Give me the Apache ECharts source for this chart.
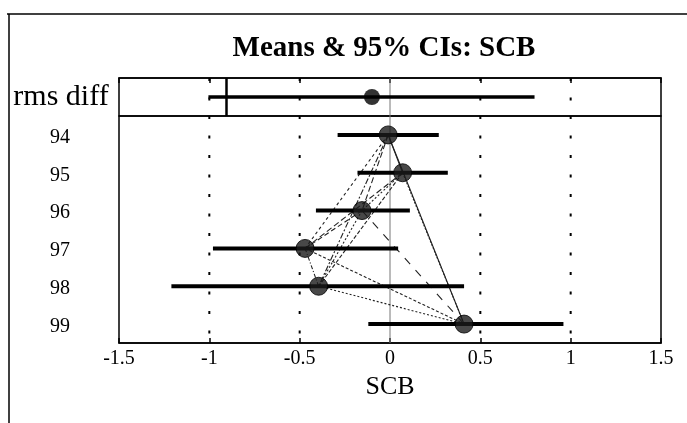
<!DOCTYPE html>
<html>
<head>
<meta charset="utf-8">
<script src="https://cdn.jsdelivr.net/npm/echarts@6/dist/echarts.min.js"></script>
<style>
html,body{margin:0;padding:0;background:#fff;}
#main{width:687px;height:423px;}
</style>
</head>
<body>
<div id="main"></div>
<script>
// ---- data ----
const years = ['94', '95', '96', '97', '98', '99'];
const means = [-0.01, 0.07, -0.155, -0.47, -0.395, 0.41];
const lower = [-0.29, -0.18, -0.41, -0.98, -1.21, -0.12];
const upper = [0.27, 0.32, 0.11, 0.045, 0.41, 0.96];
const rmsLabel = ['rms diff'];
const rmsMean = [-0.10];
const rmsLower = [-1.005];
const rmsUpper = [0.80];
const rmsRef = [-0.905];
const xTicks = [-1.5, -1, -0.5, 0, 0.5, 1, 1.5];
const gridVals = [-1, -0.5, 0.5, 1];
// pairs of years connected by thin lines (index pairs)
const pairs = [[0,1],[0,2],[0,3],[0,4],[0,5],[1,2],[1,3],[1,4],[1,5],[2,3],[2,4],[2,5],[3,4],[3,5],[4,5]];
const pairDash = [[1,0],[6,3],[3,3],[6,2,2,2],[1,0],[2,2],[6,3],[4,2],[2,1.5],[5,3],[2,2],[8,8],[4,2,1,2],[3,2],[2,2]];

const FONT = '"Liberation Serif", "Times New Roman", serif';
const chart = echarts.init(document.getElementById('main'));

const xAxisBase = {
  type: 'value', min: -1.5, max: 1.5, interval: 0.5,
  splitLine: { show: false },
  axisLine: { show: true, lineStyle: { color: '#000', width: 1.5 } },
  axisTick: { show: true, inside: true, length: 5, lineStyle: { color: '#000', width: 1.5 } }
};

function vlineSeries(xIdx, yIdx) {
  return {
    type: 'custom', xAxisIndex: xIdx, yAxisIndex: yIdx, silent: true, z: 1,
    data: gridVals.map(v => [v, 0]).concat([[0, 1]]),
    renderItem: function (params, api) {
      const cs = params.coordSys;
      const x = api.coord([api.value(0), 0])[0];
      const isZero = api.value(1) === 1;
      return {
        type: 'line',
        shape: { x1: x, y1: cs.y, x2: x, y2: cs.y + cs.height },
        style: isZero ? { stroke: '#777', lineWidth: 1 } : { stroke: '#000', lineWidth: 2, lineDash: [3, 16.5] }
      };
    }
  };
}

const option = {
  backgroundColor: '#fff',
  animation: false,
  title: {
    text: 'Means & 95% CIs: SCB',
    left: 379, top: 29, textAlign: 'center',
    textStyle: { fontFamily: FONT, fontSize: 29, fontWeight: 'bold', color: '#000' }
  },
  graphic: [
    { type: 'line', shape: { x1: 7, y1: 14, x2: 687, y2: 14 }, style: { stroke: '#000', lineWidth: 1.5 } },
    { type: 'line', shape: { x1: 9, y1: 14, x2: 9, y2: 423 }, style: { stroke: '#000', lineWidth: 1.5 } }
  ],
  grid: [
    { left: 119, right: 26, top: 78, height: 38, show: true, borderColor: '#000', borderWidth: 1.5, backgroundColor: 'transparent' },
    { left: 119, right: 26, top: 116, height: 227, show: true, borderColor: '#000', borderWidth: 1.5, backgroundColor: 'transparent' }
  ],
  xAxis: [
    Object.assign({}, xAxisBase, { gridIndex: 0, position: 'top', axisLabel: { show: false } }),
    Object.assign({}, xAxisBase, {
      gridIndex: 1, position: 'bottom',
      name: 'SCB', nameLocation: 'middle', nameGap: 30,
      nameTextStyle: { fontFamily: FONT, fontSize: 26, color: '#000' },
      axisLabel: { show: true, margin: 6, fontFamily: FONT, fontSize: 20, color: '#000',
        customValues: xTicks }
    })
  ],
  yAxis: [
    { type: 'category', gridIndex: 0, data: rmsLabel, inverse: true,
      axisLine: { show: false }, axisTick: { show: false },
      axisLabel: { fontFamily: FONT, fontSize: 30, color: '#000', align: 'center', margin: 58 } },
    { type: 'category', gridIndex: 1, data: years, inverse: true,
      axisLine: { show: false }, axisTick: { show: false },
      axisLabel: { color: '#000', align: 'center', margin: 59,
        formatter: v => '{y|' + v + '}',
        rich: { y: { fontFamily: FONT, fontSize: 20, color: '#000', padding: [5, 0, 0, 0] } } } }
  ],
  series: [
    vlineSeries(0, 0),
    vlineSeries(1, 1),
    // rms diff reference vertical line
    {
      type: 'custom', xAxisIndex: 0, yAxisIndex: 0, silent: true, z: 3,
      data: rmsRef.map(v => [v, 0]),
      renderItem: function (params, api) {
        const cs = params.coordSys;
        const x = api.coord([api.value(0), 0])[0];
        return { type: 'line', shape: { x1: x, y1: cs.y, x2: x, y2: cs.y + cs.height },
          style: { stroke: '#000', lineWidth: 2.5 } };
      }
    },
    // rms diff CI
    {
      type: 'custom', xAxisIndex: 0, yAxisIndex: 0, silent: true, z: 3,
      data: rmsLabel.map((c, i) => [rmsLower[i], rmsUpper[i], i]),
      renderItem: function (params, api) {
        const p1 = api.coord([api.value(0), api.value(2)]);
        const p2 = api.coord([api.value(1), api.value(2)]);
        return { type: 'line', shape: { x1: p1[0], y1: p1[1], x2: p2[0], y2: p2[1] },
          style: { stroke: '#000', lineWidth: 3.5 } };
      }
    },
    {
      type: 'scatter', xAxisIndex: 0, yAxisIndex: 0, z: 5, silent: true,
      symbol: 'circle', symbolSize: 16,
      itemStyle: { color: '#000' },
      data: rmsLabel.map((c, i) => [rmsMean[i], c])
    },
    // connecting lines between year means
    {
      type: 'custom', xAxisIndex: 1, yAxisIndex: 1, silent: true, z: 2,
      data: pairs.map((p, k) => [means[p[0]], p[0], means[p[1]], p[1], k]),
      renderItem: function (params, api) {
        const a = api.coord([api.value(0), api.value(1)]);
        const b = api.coord([api.value(2), api.value(3)]);
        const k = api.value(4);
        return { type: 'line', shape: { x1: a[0], y1: a[1], x2: b[0], y2: b[1] },
          style: { stroke: '#222', lineWidth: 1.1, lineDash: pairDash[k] } };
      }
    },
    // year CIs
    {
      type: 'custom', xAxisIndex: 1, yAxisIndex: 1, silent: true, z: 3,
      data: years.map((c, i) => [lower[i], upper[i], i]),
      renderItem: function (params, api) {
        const p1 = api.coord([api.value(0), api.value(2)]);
        const p2 = api.coord([api.value(1), api.value(2)]);
        return { type: 'line', shape: { x1: p1[0], y1: p1[1], x2: p2[0], y2: p2[1] },
          style: { stroke: '#000', lineWidth: 4 } };
      }
    },
    {
      type: 'scatter', xAxisIndex: 1, yAxisIndex: 1, z: 5, silent: true,
      symbol: 'circle', symbolSize: 18,
      itemStyle: { color: '#1a1a1a', borderColor: '#000', borderWidth: 1 },
      data: years.map((c, i) => [means[i], c])
    }
  ]
};
chart.setOption(option);
</script>
</body>
</html>
